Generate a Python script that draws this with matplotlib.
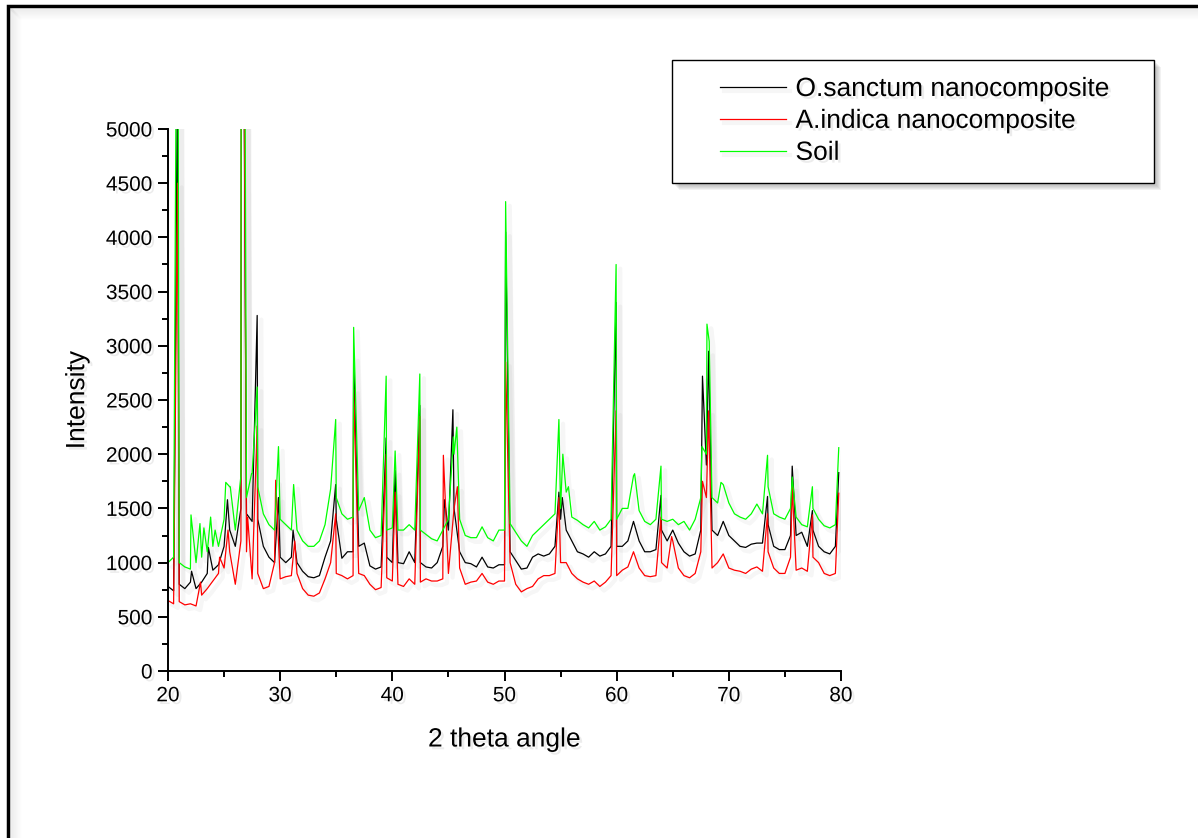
import numpy as np
import matplotlib.pyplot as plt
from matplotlib import patheffects as pe
from matplotlib.patches import Rectangle
from matplotlib.lines import Line2D

plt.rcParams['font.family'] = ['Liberation Sans', 'DejaVu Sans']

# 2theta grid for the background readings (20 .. 79.5, step 0.5)
grid = np.arange(20, 80, 0.5)

labels = ["O.sanctum nanocomposite", "A.indica nanocomposite", "Soil"]
colors = ["#000000", "#ff0000", "#00ff00"]

# background readings on the grid
ocimum_base = [780, 740, 800, 760, 820, 760, 820, 900, 930, 980,
               1150, 1300, 1150, 1500, 1450, 1380, 1400, 1150, 1050, 1000,
               1050, 1000, 1050, 1000, 920, 870, 860, 880, 1050, 1200,
               1400, 1040, 1100, 1100, 1150, 1180, 970, 940, 960, 1050,
               1000, 1000, 990, 1100, 1000, 1000, 960, 950, 1000, 1150,
               1300, 1500, 1100, 1000, 990, 960, 1050, 960, 950, 980,
               980, 1100, 1020, 940, 950, 1050, 1080, 1060, 1080, 1150,
               1400, 1300, 1200, 1100, 1080, 1050, 1100, 1060, 1080, 1150,
               1150, 1150, 1200, 1380, 1200, 1100, 1100, 1120, 1300, 1200,
               1300, 1180, 1100, 1060, 1080, 1300, 1900, 1300, 1250, 1380,
               1250, 1200, 1150, 1140, 1170, 1180, 1180, 1350, 1150, 1120,
               1120, 1250, 1250, 1280, 1150, 1300, 1150, 1100, 1080, 1150]
azadirachta_base = [650, 620, 640, 610, 620, 600, 700, 760, 830, 900,
                    950, 1100, 800, 1200, 1100, 850, 900, 760, 780, 1000,
                    850, 870, 880, 900, 760, 700, 690, 720, 850, 1000,
                    900, 880, 850, 880, 900, 880, 800, 750, 770, 860,
                    830, 800, 780, 850, 800, 820, 850, 830, 830, 850,
                    900, 1500, 950, 800, 820, 830, 900, 820, 800, 830,
                    830, 1000, 800, 730, 760, 780, 850, 880, 880, 900,
                    1000, 1000, 900, 850, 820, 800, 830, 780, 820, 880,
                    880, 930, 960, 1100, 950, 880, 870, 880, 1000, 950,
                    1200, 950, 880, 860, 900, 1100, 1600, 950, 1000, 1080,
                    950, 930, 920, 900, 940, 960, 920, 1100, 950, 900,
                    900, 1050, 930, 950, 920, 1050, 1000, 900, 880, 900]
soil_base = [1000, 1050, 1000, 960, 940, 1000, 1050, 1100, 1150, 1150,
             1400, 1700, 1300, 1800, 1600, 1820, 1700, 1450, 1350, 1300,
             1400, 1350, 1300, 1300, 1200, 1150, 1150, 1200, 1350, 1680,
             1600, 1450, 1400, 1420, 1480, 1600, 1300, 1230, 1250, 1300,
             1320, 1300, 1300, 1350, 1300, 1300, 1260, 1220, 1200, 1300,
             1400, 2000, 1400, 1250, 1230, 1230, 1330, 1230, 1200, 1300,
             1300, 1360, 1280, 1200, 1150, 1250, 1300, 1350, 1400, 1450,
             1500, 1650, 1420, 1390, 1350, 1320, 1380, 1300, 1330, 1400,
             1400, 1500, 1500, 1800, 1480, 1380, 1350, 1400, 1400, 1380,
             1400, 1350, 1380, 1300, 1400, 1600, 2000, 1600, 1550, 1720,
             1550, 1450, 1420, 1400, 1450, 1540, 1450, 1700, 1450, 1420,
             1400, 1500, 1420, 1350, 1330, 1500, 1400, 1340, 1320, 1350]

# reflections: position and top intensity
ocimum_pk_x = [20.85, 22.1, 23.6, 25.3, 26.55, 26.75, 27.95, 29.85, 31.15, 34.95,
               36.55, 39.45, 40.25, 42.45, 44.65, 45.4, 50.1, 54.85, 55.15, 59.95,
               63.95, 67.65, 68.2, 73.45, 75.65, 77.45, 79.8]
ocimum_pk_y = [5600, 920, 1140, 1580, 7000, 6000, 3280, 1600, 1300, 1720,
               2900, 2150, 1850, 2450, 1580, 2410, 4050, 1650, 1600, 3400,
               1620, 2720, 2950, 1610, 1890, 1480, 1830]
azadirachta_pk_x = [20.85, 22.9, 24.6, 25.35, 26.55, 26.75, 27.1, 27.95, 29.6, 31.3,
                    34.95, 36.55, 39.45, 40.25, 42.45, 44.55, 45.8, 50.1, 54.85, 59.95,
                    63.95, 64.9, 67.65, 68.2, 73.45, 75.65, 77.45, 79.8]
azadirachta_pk_y = [4500, 820, 1050, 1300, 6500, 6500, 1420, 2260, 1760, 1200,
                    1450, 2600, 2000, 1650, 2350, 1990, 1700, 2850, 1600, 2400,
                    1420, 1240, 1750, 2400, 1450, 1700, 1440, 1640]
soil_pk_x = [20.85, 22.05, 22.85, 23.2, 23.8, 24.2, 25.15, 25.55, 26.55, 26.75,
             27.45, 27.95, 29.85, 31.2, 34.95, 36.55, 39.45, 40.25, 42.45, 45.45,
             45.75, 50.1, 54.85, 55.2, 55.7, 59.95, 61.6, 63.95, 67.6, 68.05,
             68.25, 69.3, 73.45, 75.65, 77.45, 79.8]
soil_pk_y = [8000, 1440, 1360, 1320, 1420, 1300, 1740, 1700, 9000, 9000,
             1820, 2620, 2070, 1720, 2320, 3170, 2720, 2030, 2740, 2160,
             2250, 4330, 2320, 2000, 1700, 3750, 1820, 1890, 2070, 3200,
             3040, 1740, 1990, 1790, 1700, 2060]


def pattern(base, pk_x, pk_y):
    x = np.concatenate([grid, pk_x])
    y = np.concatenate([base, pk_y])
    order = np.argsort(x, kind="stable")
    return x[order], y[order]


series = [pattern(ocimum_base, ocimum_pk_x, ocimum_pk_y),
          pattern(azadirachta_base, azadirachta_pk_x, azadirachta_pk_y),
          pattern(soil_base, soil_pk_x, soil_pk_y)]

fig = plt.figure(figsize=(11.98, 8.38), dpi=100)
ax = fig.add_axes([168 / 1198, 1 - 671 / 838, 673 / 1198, 542 / 838])
ax.patch.set_visible(False)

shadow = [pe.SimpleLineShadow(offset=(3, -3), shadow_color="gray", alpha=0.07, linewidth=3), pe.Normal()]
txt_shadow = [pe.withSimplePatchShadow(offset=(2, -2), shadow_rgbFace="gray", alpha=0.15)]

handles = []
for (x, y), c, lab in zip(series, colors, labels):
    ln, = ax.plot(x, y, color=c, lw=0.9, label=lab, path_effects=shadow)
    handles.append(ln)

ax.set_xlim(20, 80)
ax.set_ylim(0, 5000)
ax.set_xticks(np.arange(20, 81, 10))
ax.set_xticks(np.arange(25, 80, 10), minor=True)
ax.set_yticks(np.arange(0, 5001, 500))
ax.set_yticks(np.arange(250, 5000, 500), minor=True)
for s in ["top", "right"]:
    ax.spines[s].set_visible(False)
for s in ["left", "bottom"]:
    ax.spines[s].set_linewidth(1.4)
ax.tick_params(which="major", direction="out", length=7, width=1.4, labelsize=15, pad=4)
ax.tick_params(which="minor", direction="out", length=4, width=1.4)
for t in ax.get_xticklabels() + ax.get_yticklabels():
    t.set_path_effects(txt_shadow)

ax.set_xlabel("2 theta angle", fontsize=19, labelpad=16, path_effects=txt_shadow)
ax.set_ylabel("Intensity", fontsize=19, labelpad=12, path_effects=txt_shadow)

# legend box with shadow
bx, by, bw, bh = 672 / 1198, 1 - 183 / 838, 482 / 1198, 123 / 838
for i in range(5):
    fig.patches.append(Rectangle((bx + (3 + i) / 1198, by - (3 + i) / 838), bw, bh,
                                 transform=fig.transFigure, fc="gray", ec="none",
                                 alpha=0.1, zorder=-2))
fig.patches.append(Rectangle((bx, by), bw, bh, transform=fig.transFigure,
                             fc="white", ec="black", lw=1.0, zorder=-1))
leg = ax.legend(handles=handles, loc="upper left", frameon=False, fontsize=19,
                bbox_to_anchor=(720 / 1198, 1 - 77 / 838), bbox_transform=fig.transFigure,
                borderpad=0, borderaxespad=0, handlelength=2.5, handletextpad=0.36,
                labelspacing=0.3)
for t in leg.get_texts():
    t.set_path_effects(txt_shadow)

# outer frame with inner shadow
for i in range(10):
    a = 0.10 * (1 - i / 10)
    fig.lines.append(Line2D([(10 + i) / 1198, 1], [1 - (9 + i) / 838] * 2, transform=fig.transFigure,
                            color="gray", alpha=a, lw=1))
    fig.lines.append(Line2D([(11 + i) / 1198] * 2, [0, 1 - (8 + i) / 838], transform=fig.transFigure,
                            color="gray", alpha=a, lw=1))
fig.patches.append(Rectangle((8 / 1198, -0.1), 1.2, 1.1 - 6 / 838, transform=fig.transFigure,
                             fill=False, ec="black", lw=2.5, zorder=3))

fig.savefig("out.png", dpi=100)
